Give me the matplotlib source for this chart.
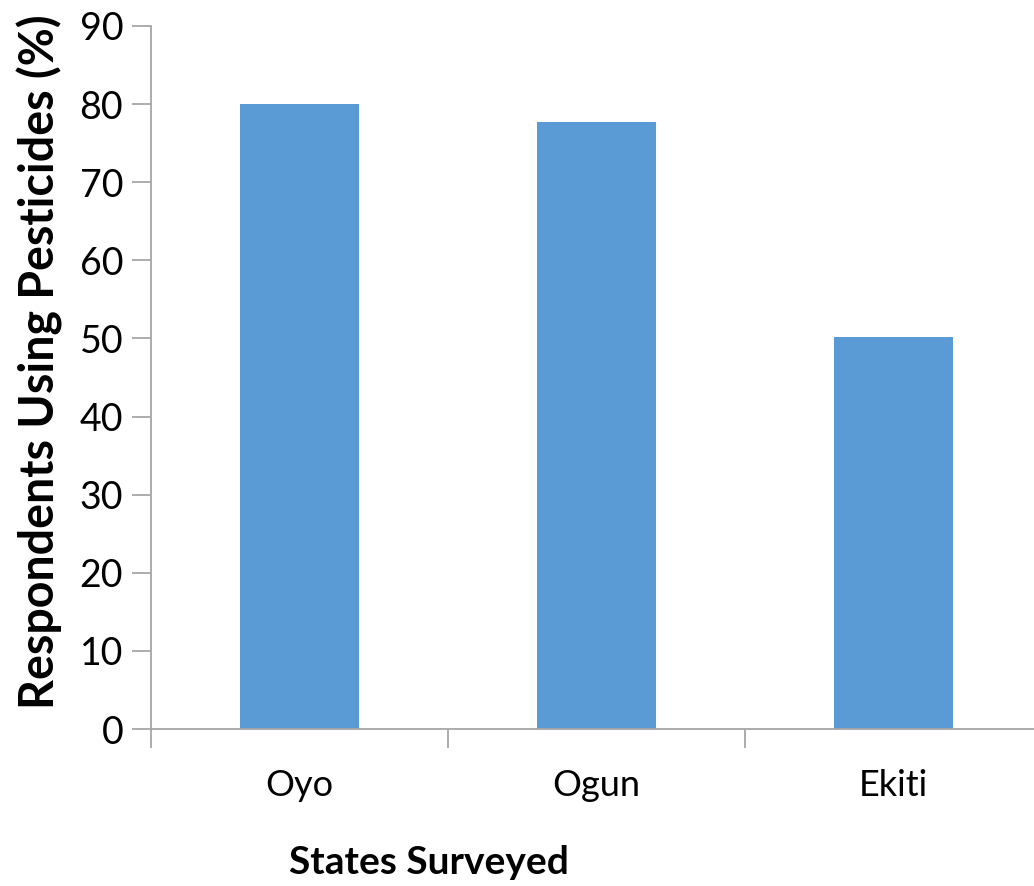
import matplotlib
matplotlib.use("Agg")
import matplotlib.pyplot as plt

states = ["Oyo", "Ogun", "Ekiti"]
pesticide_use_pct = [80.0, 77.7, 50.2]
y_ticks = [0, 10, 20, 30, 40, 50, 60, 70, 80, 90]

plt.rcParams['font.family'] = ['Lato', 'DejaVu Sans']

fig = plt.figure(figsize=(10.34, 8.86), dpi=100)
ax = fig.add_axes([0.146, 0.1772, 0.8617, 0.7935])

x = list(range(len(states)))
ax.bar(x, pesticide_use_pct, width=0.4, color="#5B9BD5", zorder=2)

ax.set_xlim(-0.5, len(states) - 0.5)
ax.set_ylim(0, 90)
ax.set_yticks(y_ticks)

axis_col = "#A6A6A6"
for side in ["top", "right"]:
    ax.spines[side].set_visible(False)
for side in ["left", "bottom"]:
    ax.spines[side].set_color(axis_col)
    ax.spines[side].set_linewidth(1.3)

# category boundaries carry the tick marks, labels sit at bar centres
ax.set_xticks([i - 0.5 for i in range(len(states) + 1)])
ax.set_xticklabels([])
ax.set_xticks(x, minor=True)
ax.set_xticklabels(states, minor=True, fontsize=26)
ax.tick_params(axis="x", which="major", length=14, width=1.3, color=axis_col)
ax.tick_params(axis="x", which="minor", length=0, pad=29)
ax.tick_params(axis="y", length=14, width=1.3, color=axis_col, labelsize=27, pad=6)

ax.set_ylabel("Respondents Using Pesticides (%)", fontsize=33.5, fontweight="bold", labelpad=12)
ax.yaxis.label.set_y(0.522)
fig.text(0.415, 0.027, "States Surveyed", fontsize=28, fontweight="bold", ha="center", va="center")

fig.savefig("out.png", dpi=100, facecolor="white")
